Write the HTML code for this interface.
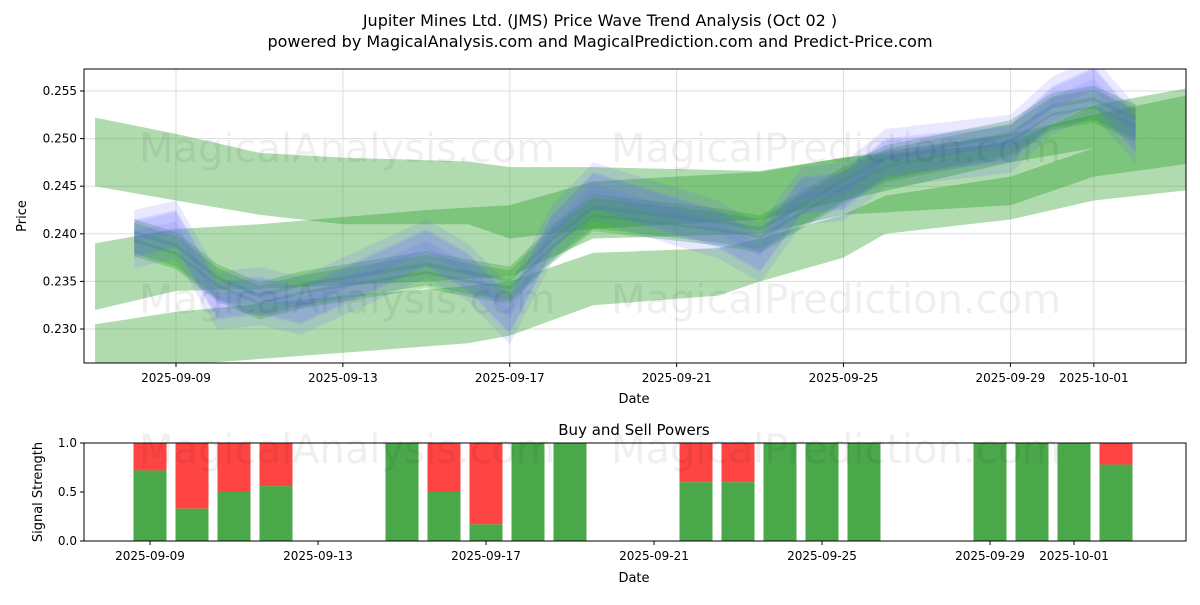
<!DOCTYPE html>
<html><head><meta charset="utf-8"><style>
body{margin:0;background:#fff;font-family:"Liberation Sans","DejaVu Sans",sans-serif}
svg text{font-family:"DejaVu Sans","Liberation Sans",sans-serif}
</style></head><body>
<svg id="c" width="1200" height="600" xmlns="http://www.w3.org/2000/svg"></svg>
<script>
// price (day index 0 = 2025-09-09)
const priceDays=[-1,0,1,2,3,6,7,8,9,10,13,14,15,16,17,20,21,22,23];
const priceVals=[0.2395,0.2405,0.2330,0.2335,0.2325,0.2385,0.2360,0.2315,0.2400,0.2445,0.2405,0.2380,0.2440,0.2445,0.2480,0.2495,0.2535,0.2555,0.2505];
const bandADays=[-1.94,0,2,4,7,8,10,14,16,20,22,24.5];
const bandATop=[0.2522,0.2505,0.2485,0.2480,0.2476,0.2470,0.2470,0.2466,0.2480,0.2495,0.2535,0.2555];
const bandABot=[0.2450,0.2435,0.2420,0.2410,0.2410,0.2395,0.2405,0.2415,0.2435,0.2475,0.2490,0.2505];
const bandBDays=[-1.94,0,2,6,8,10,14,16,20,22,24.5];
const bandBTop=[0.2390,0.2405,0.2410,0.2425,0.2430,0.2455,0.2465,0.2480,0.2505,0.2525,0.2548];
const bandBBot=[0.2320,0.2340,0.2342,0.2350,0.2355,0.2395,0.2400,0.2420,0.2430,0.2460,0.2475];
const bandCDays=[-1.94,0,4,7,8,10,13,14,16,17,20,22,24.5];
const bandCTop=[0.2305,0.2318,0.2335,0.2345,0.2350,0.2380,0.2385,0.2395,0.2420,0.2440,0.2460,0.2490,0.2505];
const bandCBot=[0.2255,0.2262,0.2275,0.2285,0.2293,0.2325,0.2335,0.2350,0.2375,0.2400,0.2415,0.2435,0.2447];
const powerDays=[0,1,2,3,6,7,8,9,10,13,14,15,16,17,20,21,22,23];
const buyVals=[0.72,0.33,0.5,0.56,1,0.5,0.17,1,1,0.6,0.6,1,1,1,1,1,1,0.78];
const topTicks=['2025-09-09','2025-09-13','2025-09-17','2025-09-21','2025-09-25','2025-09-29','2025-10-01'];
const tickDays=[0,4,8,12,16,20,22];
const yTicks=[0.230,0.235,0.240,0.245,0.250,0.255];
const y2Ticks=[0,0.5,1];

const S=document.getElementById('c'),NS='http://www.w3.org/2000/svg';
function el(t,a,p){const e=document.createElementNS(NS,t);for(const k in a)e.setAttribute(k,a[k]);(p||S).appendChild(e);return e;}
const L=84,R=1186,T=69,B=363;
const X=d=>176+41.72*d, Y=v=>329+(v-0.230)/0.005*(-47.6);
const X2=d=>150+42*d, Y2=v=>541-98*v;
let t;
t=el('text',{x:600,y:26,'text-anchor':'middle','font-size':16});t.textContent='Jupiter Mines Ltd. (JMS) Price Wave Trend Analysis (Oct 02 )';

t=el('text',{x:600,y:47,'text-anchor':'middle','font-size':16});t.textContent='powered by MagicalAnalysis.com and MagicalPrediction.com and Predict-Price.com';

el('defs',{}).innerHTML='<clipPath id="cp"><rect x="84" y="69" width="1102" height="294"/></clipPath>';
const g=el('g',{'clip-path':'url(#cp)'});

tickDays.forEach(d=>el('line',{x1:X(d),x2:X(d),y1:T,y2:B,stroke:'#ddd'},g));
yTicks.forEach(v=>el('line',{x1:L,x2:R,y1:Y(v),y2:Y(v),stroke:'#ddd'},g));
function band(days,top,bot,fill,op,name,sh){
  let p=days.map((d,i)=>X(d)+','+Y(top[i]+sh)).concat(days.map((d,i)=>X(d)+','+Y(bot[i]+sh)).reverse());
  const e=el('polygon',{points:p.join(' '),fill:fill,opacity:op},g);
  
}
band(bandADays,bandATop,bandABot,'#2ca02c',0.38,'trend-band-upper',0);
band(bandBDays,bandBTop,bandBBot,'#2ca02c',0.38,'trend-band-middle',0);
band(bandCDays,bandCTop,bandCBot,'#2ca02c',0.38,'trend-band-lower',0);
const sm=priceVals.map((v,i)=>{const a=priceVals[Math.max(0,i-1)],b=priceVals[Math.min(priceVals.length-1,i+1)];return (a+2*v+b)/4;});
[[-0.0006,0.0012],[0.0004,0.0010],[-0.0012,0.0009],[0.0010,0.0008]].forEach((o,k)=>{
  band(priceDays,sm.map(v=>v+o[1]),sm.map(v=>v-o[1]),'#2ca02c',0.3,'smoothed-band-'+k,o[0]);
});
[[0,0.0018],[0.0015,0.0015],[-0.0015,0.0016],[0.0008,0.0012],[-0.0006,0.0014]].forEach((o,k)=>{
  band(priceDays,priceVals.map(v=>v+o[1]),priceVals.map(v=>v-o[1]),'#6666ff',0.15,'price-wave-band-'+k,o[0]);
});
[['MagicalAnalysis.com',347,162],['MagicalPrediction.com',836,162],['MagicalAnalysis.com',347,313],['MagicalPrediction.com',836,313]].forEach(w=>{
  t=el('text',{x:w[1],y:w[2],'text-anchor':'middle','font-size':40,fill:'#000',opacity:0.06});t.textContent=w[0];
  
});
el('rect',{x:L,y:T,width:R-L,height:B-T,fill:'none',stroke:'#000'});
tickDays.forEach((d,i)=>{el('line',{x1:X(d),x2:X(d),y1:B,y2:B+4,stroke:'#000'});
  t=el('text',{x:X(d),y:B+19,'text-anchor':'middle','font-size':12});t.textContent=topTicks[i];
  });
yTicks.forEach(v=>{el('line',{x1:L-4,x2:L,y1:Y(v),y2:Y(v),stroke:'#000'});
  t=el('text',{x:L-7,y:Y(v)+4,'text-anchor':'end','font-size':12});t.textContent=v.toFixed(3);
  });
t=el('text',{x:634,y:403,'text-anchor':'middle','font-size':13});t.textContent='Date';
t=el('text',{x:26,y:216,'text-anchor':'middle','font-size':13,transform:'rotate(-90 26 216)'});t.textContent='Price';

const T2=443,B2=541;
t=el('text',{x:634,y:435,'text-anchor':'middle','font-size':15});t.textContent='Buy and Sell Powers';
powerDays.forEach((d,i)=>{
  const x=X2(d)-16.5;
  const r=el('rect',{x:x,y:Y2(1),width:33,height:Y2(buyVals[i])-Y2(1),fill:'#ff4444'});
  
  const gb=el('rect',{x:x,y:Y2(buyVals[i]),width:33,height:Y2(0)-Y2(buyVals[i]),fill:'#4aa84a'});
  
});
[['MagicalAnalysis.com',347],['MagicalPrediction.com',836]].forEach(w=>{
  t=el('text',{x:w[1],y:463,'text-anchor':'middle','font-size':40,fill:'#000',opacity:0.06});t.textContent=w[0];
  });
el('rect',{x:L,y:T2,width:R-L,height:B2-T2,fill:'none',stroke:'#000'});
tickDays.forEach((d,i)=>{el('line',{x1:X2(d),x2:X2(d),y1:B2,y2:B2+4,stroke:'#000'});
  t=el('text',{x:X2(d),y:B2+19,'text-anchor':'middle','font-size':12});t.textContent=topTicks[i];
  });
y2Ticks.forEach(v=>{el('line',{x1:L-4,x2:L,y1:Y2(v),y2:Y2(v),stroke:'#000'});
  t=el('text',{x:L-7,y:Y2(v)+4,'text-anchor':'end','font-size':12});t.textContent=v.toFixed(1);
  });
t=el('text',{x:634,y:582,'text-anchor':'middle','font-size':13});t.textContent='Date';
t=el('text',{x:42,y:492,'text-anchor':'middle','font-size':13,transform:'rotate(-90 42 492)'});t.textContent='Signal Strength';
</script>
</body></html>
